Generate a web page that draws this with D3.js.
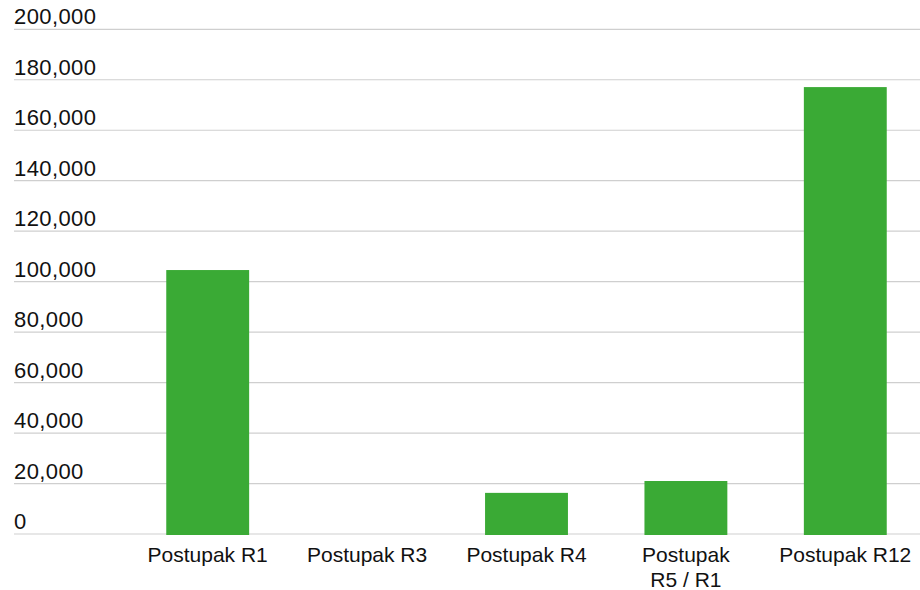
<!DOCTYPE html>
<html><head><meta charset="utf-8">
<script src="https://cdn.jsdelivr.net/npm/d3@7"></script>
<style>body{margin:0;background:#fff}svg{display:block}</style>
</head><body>
<script>
const categories = [["Postupak R1"], ["Postupak R3"], ["Postupak R4"], ["Postupak", "R5 / R1"], ["Postupak R12"]];
const values = [104600, 0, 16300, 21000, 177100];
const tickValues = [0, 20000, 40000, 60000, 80000, 100000, 120000, 140000, 160000, 180000, 200000];

const W = 920, H = 590;
const svg = d3.select("body").append("svg").attr("width", W).attr("height", H);
const font = "'Liberation Sans', Arial, sans-serif";

const y = d3.scaleLinear().domain([0, 200000]).range([534, 29.3]);
const x = d3.scaleBand().domain(categories.map((d, i) => i)).range([128, 925]).paddingInner(0.48).paddingOuter(0.24);

const fmt = d3.format(",");
const g = svg.append("g");
tickValues.forEach(t => {
  g.append("line").attr("x1", 14).attr("x2", W).attr("y1", y(t)).attr("y2", y(t))
    .attr("stroke", "#cfcfcf").attr("stroke-width", 1.2);
  g.append("text").attr("x", 14).attr("y", y(t) - 5).text(fmt(t))
    .attr("font-family", font).attr("font-size", 22).attr("letter-spacing", 0.4).attr("fill", "#111");
});

svg.selectAll("rect.bar").data(values.filter(v => v > 0).map(v => ({v, i: values.indexOf(v)})))
  .join("rect").attr("class", "bar")
  .attr("x", d => x(d.i)).attr("width", x.bandwidth())
  .attr("y", d => y(d.v)).attr("height", d => y(0) - y(d.v) + 1)
  .attr("fill", "#3aaa35");

categories.forEach((lines, i) => {
  const t = svg.append("text").attr("text-anchor", "middle")
    .attr("font-family", font).attr("font-size", 21).attr("fill", "#111");
  lines.forEach((l, j) => {
    t.append("tspan").attr("x", x(i) + x.bandwidth() / 2).attr("y", 562 + j * 25).text(l);
  });
});
</script>
</body></html>
